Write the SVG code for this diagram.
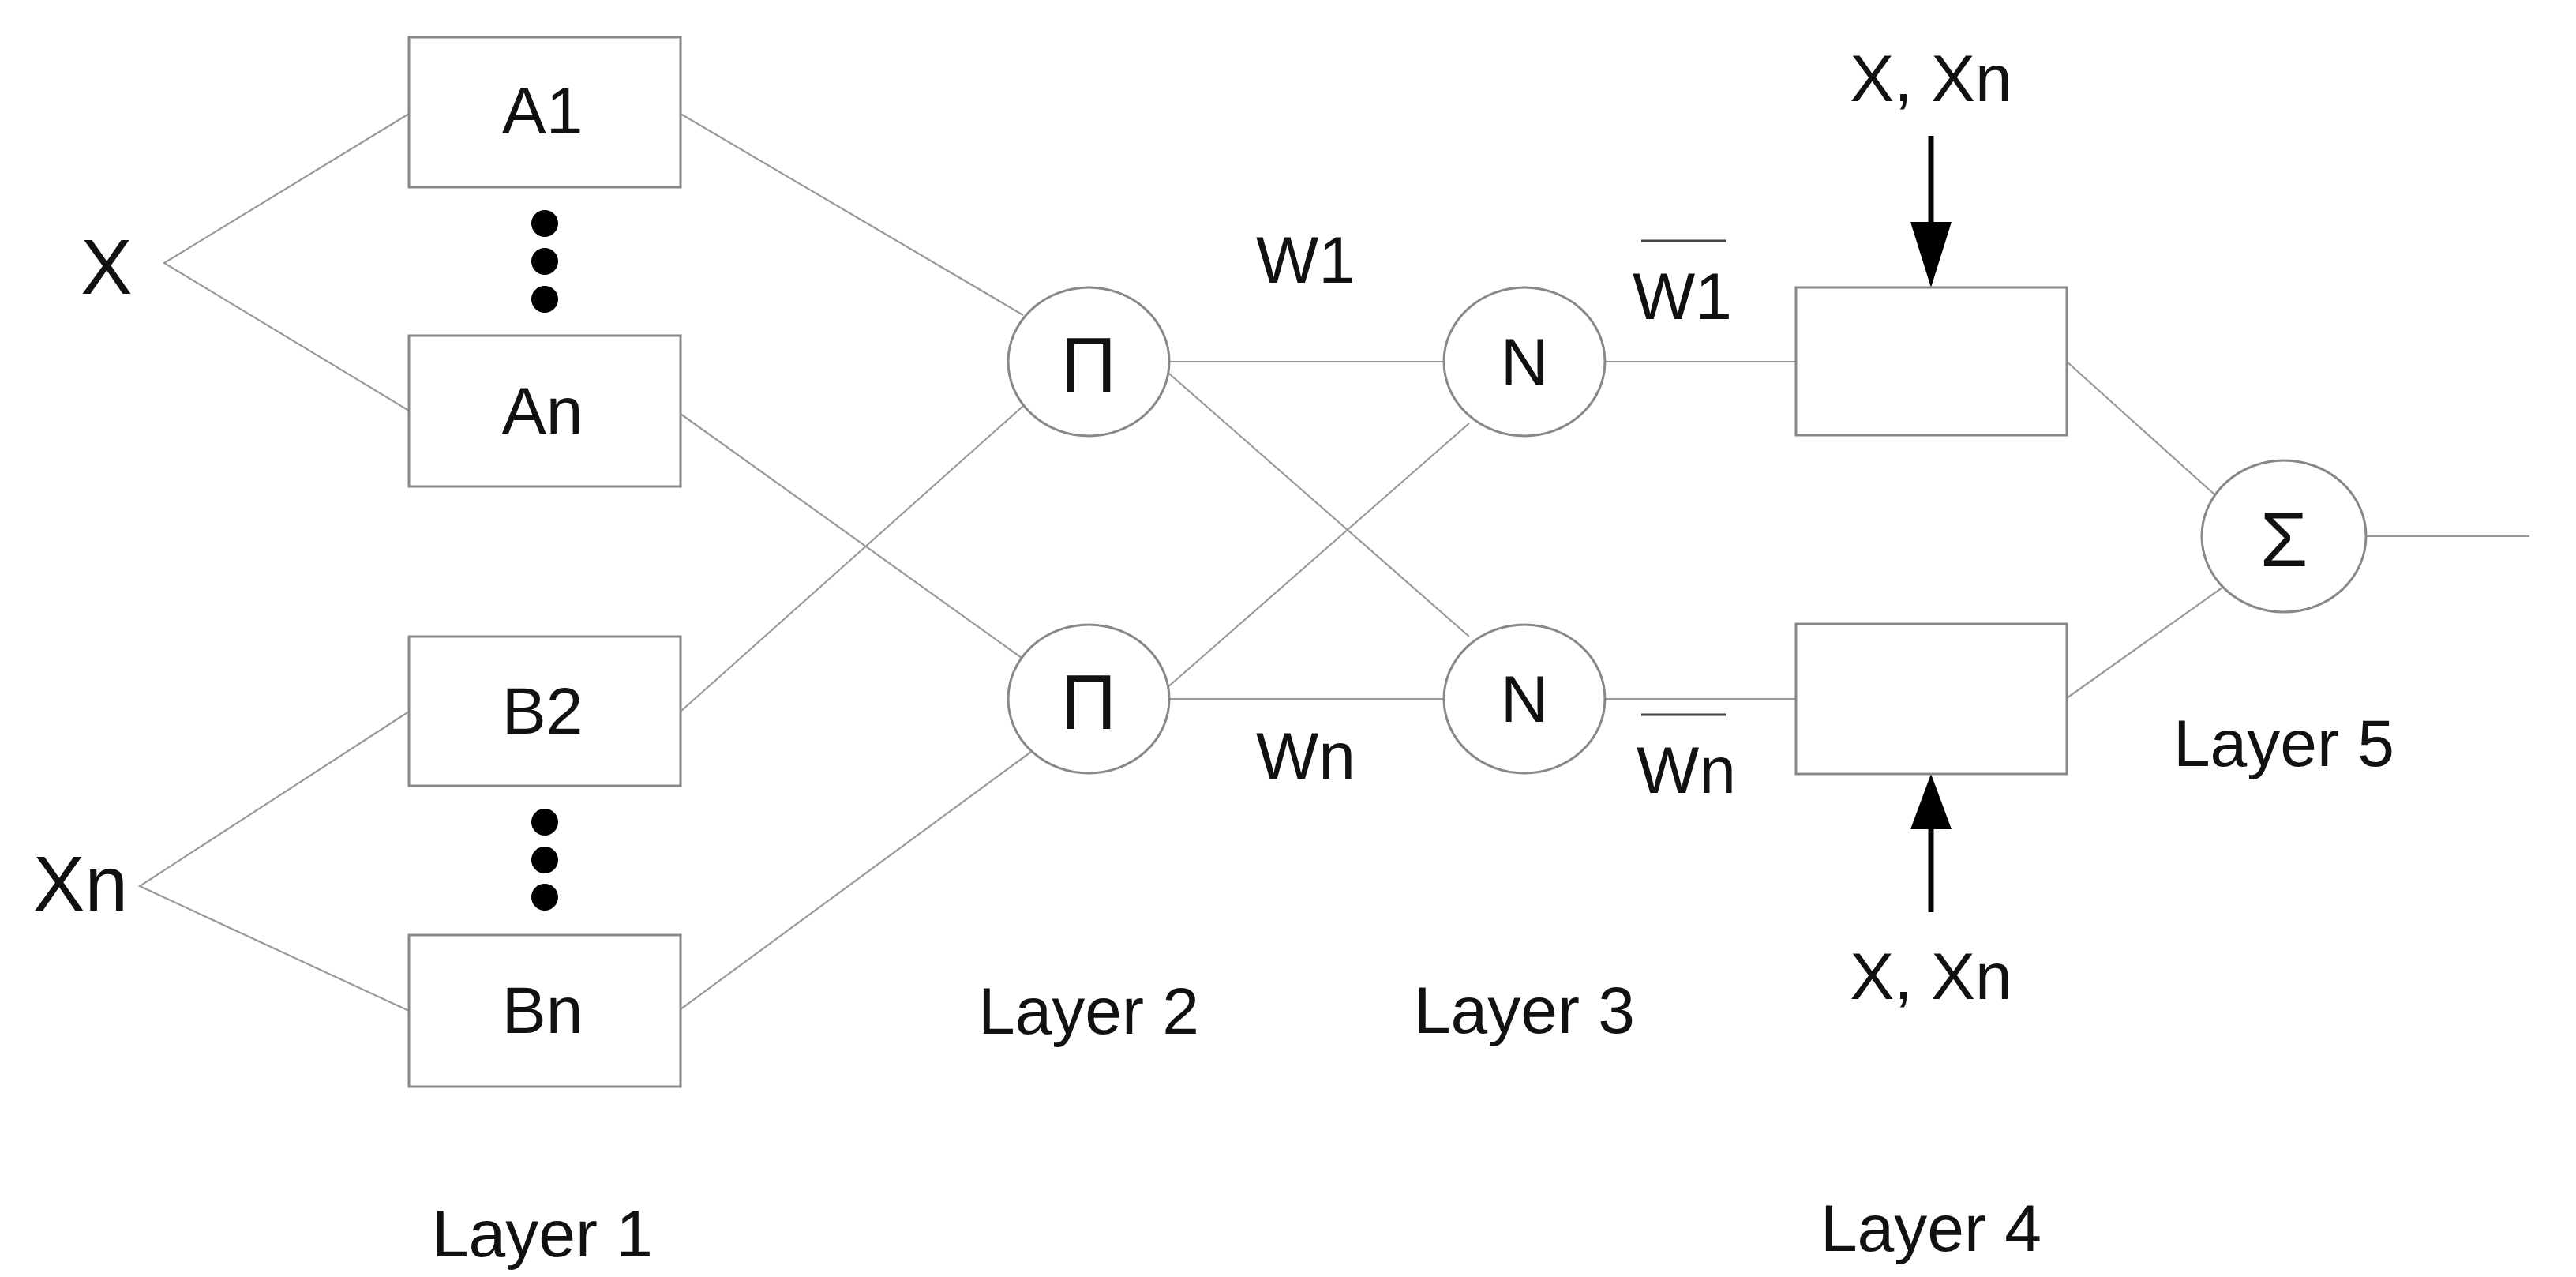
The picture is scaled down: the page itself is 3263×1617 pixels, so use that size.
<svg xmlns="http://www.w3.org/2000/svg" width="3263" height="1617" viewBox="0 0 3263 1617">
<style>
text{font-family:"Liberation Sans",Arial,sans-serif;font-size:84px;fill:#111;text-anchor:middle;dominant-baseline:central}
.big{font-size:98px}
.b{fill:#fff;stroke:#888;stroke-width:3}
.c{stroke:#999;stroke-width:2.2;fill:none}
.a{stroke:#000;stroke-width:7;fill:none}
.d{fill:#000}
</style>
<rect width="3263" height="1617" fill="#fff"/>
<g id="connectors">
<polyline class="c" points="518,144 208,333 518,520"/>
<polyline class="c" points="518,901 177,1122 518,1280"/>
<line class="c" x1="862" y1="144" x2="1296" y2="399"/>
<line class="c" x1="862" y1="524" x2="1294" y2="833"/>
<line class="c" x1="862" y1="901" x2="1296" y2="514"/>
<line class="c" x1="862" y1="1278" x2="1306" y2="952"/>
<line class="c" x1="1481" y1="458" x2="1829" y2="458"/>
<line class="c" x1="1481" y1="885" x2="1829" y2="885"/>
<line class="c" x1="1475" y1="468" x2="1861" y2="806"/>
<line class="c" x1="1477" y1="872" x2="1861" y2="536"/>
<line class="c" x1="2033" y1="458" x2="2275" y2="458"/>
<line class="c" x1="2033" y1="885" x2="2275" y2="885"/>
<line class="c" x1="2618" y1="458" x2="2805" y2="626"/>
<line class="c" x1="2618" y1="884" x2="2815" y2="744"/>
<line class="c" x1="2997" y1="679" x2="3204" y2="679"/>
<path d="M2446,172V281" class="a"/><path d="M2420,281L2472,281L2446,364z" class="d"/>
<path d="M2446,1155V1050" class="a"/><path d="M2420,1050L2472,1050L2446,980z" class="d"/>
</g>
<g id="X"><text class="big" x="135" y="338">X</text></g>
<g id="Xn"><text class="big" x="102" y="1119">Xn</text></g>
<g id="A1"><rect class="b" x="518" y="47" width="344" height="190"/><text x="687" y="140">A1</text></g>
<g id="dots1"><circle cx="690" cy="283" r="17"/><circle cx="690" cy="331" r="17"/><circle cx="690" cy="379" r="17"/></g>
<g id="An"><rect class="b" x="518" y="425" width="344" height="191"/><text x="687" y="520">An</text></g>
<g id="B2"><rect class="b" x="518" y="806" width="344" height="189"/><text x="687" y="900">B2</text></g>
<g id="dots2"><circle cx="690" cy="1041" r="17"/><circle cx="690" cy="1089" r="17"/><circle cx="690" cy="1136" r="17"/></g>
<g id="Bn"><rect class="b" x="518" y="1184" width="344" height="192"/><text x="687" y="1279">Bn</text></g>
<g id="P1"><ellipse class="b" cx="1379" cy="458" rx="102" ry="94"/><text class="big" x="1379" y="462">Π</text></g>
<g id="P2"><ellipse class="b" cx="1379" cy="885" rx="102" ry="94"/><text class="big" x="1379" y="889">Π</text></g>
<g id="N1"><ellipse class="b" cx="1931" cy="458" rx="102" ry="94"/><text x="1931" y="458">N</text></g>
<g id="N2"><ellipse class="b" cx="1931" cy="885" rx="102" ry="94"/><text x="1931" y="885">N</text></g>
<g id="L4a"><rect class="b" x="2275" y="364" width="343" height="187"/></g>
<g id="L4b"><rect class="b" x="2275" y="790" width="343" height="190"/></g>
<g id="S"><ellipse class="b" cx="2893" cy="679" rx="104" ry="96"/><text class="big" x="2893" y="683">Σ</text></g>
<g id="labels">
<text x="1654" y="329">W1</text>
<text x="1654" y="957">Wn</text>
<text x="2131" y="375">W1</text><line x1="2079" y1="305" x2="2186" y2="305" stroke="#444" stroke-width="3"/>
<text x="2136" y="975">Wn</text><line x1="2079" y1="905" x2="2186" y2="905" stroke="#444" stroke-width="3"/>
<text x="2446" y="99">X, Xn</text>
<text x="2446" y="1236">X, Xn</text>
<text x="687" y="1562">Layer 1</text>
<text x="1379" y="1280">Layer 2</text>
<text x="1931" y="1279">Layer 3</text>
<text x="2446" y="1555">Layer 4</text>
<text x="2893" y="941">Layer 5</text>
</g>
</svg>
